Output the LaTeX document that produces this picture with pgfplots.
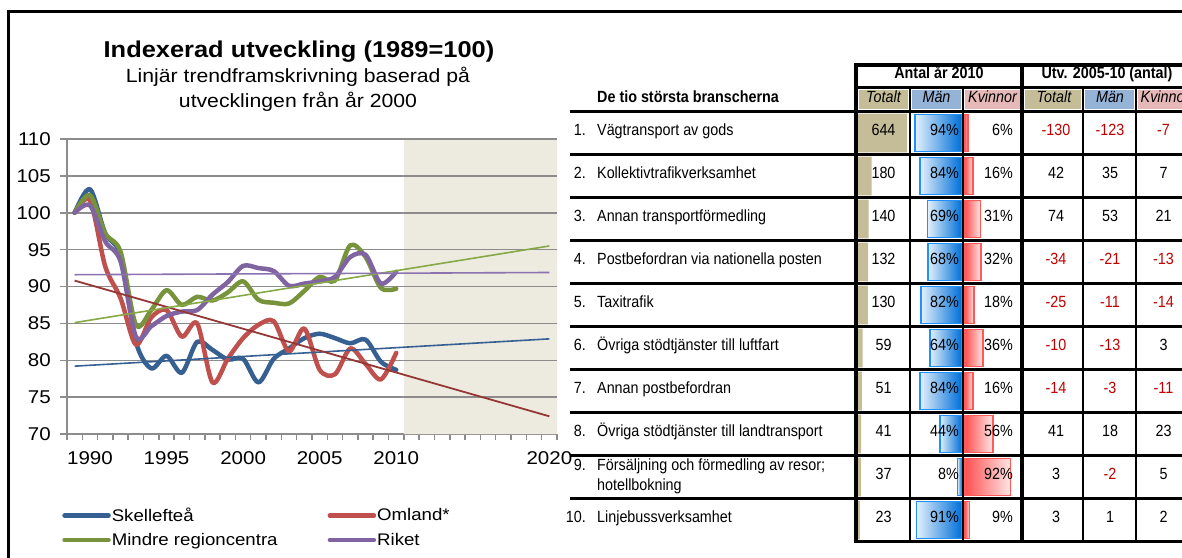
\documentclass[border=0pt]{standalone}
\usepackage{fontspec}
\setmainfont{Liberation Sans}[FakeStretch=1.11]
\newfontfamily\tabfont{Liberation Sans}[FakeStretch=0.885]
\usepackage{pgfplots}
\pgfplotsset{compat=1.18}

\definecolor{cBlue}{HTML}{376092}
\definecolor{cRed}{HTML}{C0504D}
\definecolor{cGreen}{HTML}{77933C}
\definecolor{cPurple}{HTML}{8064A2}
\definecolor{tRed}{HTML}{953735}
\definecolor{tGreen}{HTML}{86A845}
\definecolor{tPurple}{HTML}{8C72AE}
\definecolor{shadec}{HTML}{EDEBE0}
\definecolor{gridc}{HTML}{8C8C8C}
\definecolor{hTan}{HTML}{C4BD97}
\definecolor{hBlue}{HTML}{95B3D7}
\definecolor{hPink}{HTML}{E6B9B8}
\definecolor{negred}{HTML}{C00000}
\definecolor{manDark}{HTML}{0070D8}
\definecolor{manLight}{HTML}{E4F0FC}
\definecolor{manBorder}{HTML}{1E90FF}
\definecolor{kvDark}{HTML}{FF5050}
\definecolor{kvLight}{HTML}{FFE6E6}
\definecolor{kvBorder}{HTML}{FF5A5A}

\newcommand\tf{\tabfont\fontsize{16.2}{18}\selectfont}
\newcommand\N[1]{\textcolor{negred}{#1}}
\pgfplotsset{
  mbar/.style={xbar, bar width=0.86, left color=manLight, right color=manDark, draw=manBorder, line width=1.6pt},
  kbar/.style={xbar, bar width=0.86, left color=kvDark, right color=kvLight, draw=kvBorder, line width=1.6pt},
  tabaxis/.style={anchor=south west, scale only axis, height=430pt, ymin=0.5, ymax=10.5, y dir=reverse, hide axis, enlargelimits=false, clip=false},
  gl/.style={gridc, line width=1.5pt, forget plot},
}
\newcommand\trow[7]{%
  \pgfmathsetmacro\ry{111.5+43*(#1-0.5)}%
  \node[anchor=mid, inner sep=0pt, font=\tf] at (883.5,\ry) {#2};
  \node[anchor=mid east, inner sep=0pt, font=\tf] at (959,\ry) {#3\%};
  \node[anchor=mid east, inner sep=0pt, font=\tf] at (1013,\ry) {#4\%};
  \node[anchor=mid, inner sep=0pt, font=\tf] at (1056,\ry) {#5};
  \node[anchor=mid, inner sep=0pt, font=\tf] at (1110,\ry) {#6};
  \node[anchor=mid, inner sep=0pt, font=\tf] at (1163.5,\ry) {#7};
}
\newcommand\rlab[2]{%
  \pgfmathsetmacro\ry{111.5+43*(#1-0.5)}%
  \node[anchor=mid east, inner sep=0pt, font=\tf] at (586,\ry) {#1.};
  \node[anchor=mid west, inner sep=0pt, font=\tf] at (597,\ry) {#2};
}

\begin{document}
\begin{tikzpicture}
\fill[white] (0pt,-557pt) rectangle (1182pt,0pt);

\begin{scope}[x=1pt,y=-1pt]
\draw[overlay, black, line width=2.5pt] (8.5,600) -- (8.5,11.5) -- (1200,11.5);
\node[anchor=base, inner sep=0pt, font=\fontsize{22.9}{25}\selectfont\bfseries] at (299,57) {Indexerad utveckling (1989=100)};
\node[anchor=base, inner sep=0pt, font=\fontsize{19.1}{21}\selectfont] at (298,82) {Linjär trendframskrivning baserad på};
\node[anchor=base, inner sep=0pt, font=\fontsize{19.1}{21}\selectfont] at (298,107) {utvecklingen från år 2000};
\end{scope}

\begin{axis}[
  at={(67pt,-434pt)}, anchor=south west,
  scale only axis, width=490pt, height=295pt,
  xmin=1988.5, xmax=2020.5, ymin=70, ymax=110,
  axis x line*=bottom, axis y line*=left,
  axis line style={gridc, line width=1.5pt, -},
  ymajorgrids, grid style={gridc, line width=1.5pt},
  ytick={70,75,...,110},
  xtick={1990,1995,2000,2005,2010,2020},
  xticklabels={1990,1995,2000,2005,2010,2020},
  minor xtick={1988.5,1989.5,...,2020.5},
  tick align=outside,
  major tick length=7pt, minor tick length=6pt,
  tick style={gridc, line width=1.5pt},
  major x tick style={draw=none},
  ticklabel style={font=\fontsize{18.5}{20}\selectfont},
  /pgf/number format/assume math mode=true,
  yticklabel style={inner sep=0pt, xshift=-9pt},
  xticklabel style={inner sep=0pt, yshift=-10pt},
  legend columns=2,
  legend cell align=left,
  legend style={at={(-0.01,-0.247)}, anchor=north west, draw=none, fill=none, inner sep=0pt,
    font=\fontsize{16.8}{18}\selectfont, row sep=8pt, nodes={inner sep=1pt}},
  /tikz/every even column/.append style={column sep=49pt},
  legend image code/.code={\draw[#1, line width=4.5pt, line cap=round] (0pt,0pt) -- (44pt,0pt);},
]
\addplot[ybar, bar width=1, fill=shadec, draw=none, forget plot]
  coordinates {(2011,110)(2012,110)(2013,110)(2014,110)(2015,110)(2016,110)(2017,110)(2018,110)(2019,110)(2020,110)};
\addplot[gl] coordinates {(2010.5,75)(2020.5,75)};
\addplot[gl] coordinates {(2010.5,80)(2020.5,80)};
\addplot[gl] coordinates {(2010.5,85)(2020.5,85)};
\addplot[gl] coordinates {(2010.5,90)(2020.5,90)};
\addplot[gl] coordinates {(2010.5,95)(2020.5,95)};
\addplot[gl] coordinates {(2010.5,100)(2020.5,100)};
\addplot[gl] coordinates {(2010.5,105)(2020.5,105)};
\addplot[gl] coordinates {(2010.5,110)(2020.5,110)};
\addplot[cBlue, line width=4.5pt, smooth, line join=round, line cap=round] coordinates {
 (1989,100)(1990,103.2)(1991,97.2)(1992,94.2)(1993,82.5)(1994,78.9)(1995,80.6)(1996,78.3)(1997,82.5)(1998,81.4)(1999,80.1)(2000,80.2)(2001,77.0)(2002,80.2)(2003,81.6)(2004,83.0)(2005,83.6)(2006,83.0)(2007,82.3)(2008,82.8)(2009,79.8)(2010,78.7)};
\addplot[cRed, line width=4.5pt, smooth, line join=round, line cap=round] coordinates {
 (1989,100)(1990,101.7)(1991,92.7)(1992,88.4)(1993,82.1)(1994,85.8)(1995,86.8)(1996,83.2)(1997,85.0)(1998,77.0)(1999,80.2)(2000,83.0)(2001,84.8)(2002,85.3)(2003,81.2)(2004,84.3)(2005,78.7)(2006,78.1)(2007,81.6)(2008,79.5)(2009,77.4)(2010,81.0)};
\addplot[cGreen, line width=4.5pt, smooth, line join=round, line cap=round] coordinates {
 (1989,100)(1990,102.4)(1991,97.2)(1992,94.7)(1993,84.8)(1994,86.8)(1995,89.5)(1996,87.5)(1997,88.6)(1998,88.1)(1999,89.2)(2000,90.7)(2001,88.2)(2002,87.8)(2003,87.7)(2004,89.4)(2005,91.3)(2006,90.8)(2007,95.6)(2008,94.0)(2009,89.8)(2010,89.7)};
\addplot[cPurple, line width=4.5pt, smooth, line join=round, line cap=round] coordinates {
 (1989,100)(1990,101.0)(1991,96.1)(1992,93.4)(1993,83.2)(1994,84.6)(1995,86.0)(1996,86.6)(1997,86.8)(1998,88.9)(1999,90.6)(2000,92.8)(2001,92.5)(2002,92.1)(2003,90.1)(2004,90.4)(2005,90.7)(2006,91.3)(2007,94.0)(2008,94.3)(2009,90.4)(2010,92.0)};
\addplot[cBlue, line width=1.6pt, forget plot] coordinates {(1989,79.2)(2020,82.9)};
\addplot[tRed, line width=1.8pt, forget plot] coordinates {(1989,90.8)(2020,72.4)};
\addplot[tGreen, line width=1.6pt, forget plot] coordinates {(1989,85.1)(2020,95.5)};
\addplot[tPurple, line width=1.6pt, forget plot] coordinates {(1989,91.6)(2020,91.9)};
\legend{Skellefteå, Omland*, Mindre regioncentra, Riket}
\end{axis}

% table header fills
\begin{scope}[x=1pt,y=-1pt]
\fill[hTan] (859,90) rectangle (908,109);
\fill[hBlue] (912,90) rectangle (961,109);
\fill[hPink] (965,90) rectangle (1020,109);
\fill[hTan] (1025,90) rectangle (1081,109);
\fill[hBlue] (1085,90) rectangle (1134,109);
\fill[overlay, hPink] (1138,90) rectangle (1195,109);
\end{scope}

% data bars: Totalt
\begin{axis}[tabaxis, at={(858pt,-541.5pt)}, width=49pt, xmin=0, xmax=644]
\addplot[xbar, bar width=0.9, fill=hTan, draw=none] coordinates {(644,1)(180,2)(140,3)(132,4)(130,5)(59,6)(51,7)(41,8)(37,9)(23,10)};
\end{axis}
% Män
\begin{axis}[tabaxis, at={(912pt,-541.5pt)}, width=49.5pt, xmin=0, xmax=100, x dir=reverse]
\addplot[mbar] coordinates {(94,1)};
\addplot[mbar] coordinates {(84,2)};
\addplot[mbar] coordinates {(69,3)};
\addplot[mbar] coordinates {(68,4)};
\addplot[mbar] coordinates {(82,5)};
\addplot[mbar] coordinates {(64,6)};
\addplot[mbar] coordinates {(84,7)};
\addplot[mbar] coordinates {(44,8)};
\addplot[mbar] coordinates {(8,9)};
\addplot[mbar] coordinates {(91,10)};
\end{axis}
% Kvinnor
\begin{axis}[tabaxis, at={(965pt,-541.5pt)}, width=49.5pt, xmin=0, xmax=100]
\addplot[kbar] coordinates {(6,1)};
\addplot[kbar] coordinates {(16,2)};
\addplot[kbar] coordinates {(31,3)};
\addplot[kbar] coordinates {(32,4)};
\addplot[kbar] coordinates {(18,5)};
\addplot[kbar] coordinates {(36,6)};
\addplot[kbar] coordinates {(16,7)};
\addplot[kbar] coordinates {(56,8)};
\addplot[kbar] coordinates {(92,9)};
\addplot[kbar] coordinates {(9,10)};
\end{axis}

\begin{scope}[x=1pt,y=-1pt]
% lines
\draw[overlay, line width=3.5pt] (854.25,65) -- (1200,65);
\draw[line width=3.5pt] (856,63.25) -- (856,543.25);
\draw[overlay, line width=2.2pt] (856,87.5) -- (1200,87.5);
\draw[overlay, line width=3.5pt] (570,111.5) -- (1200,111.5);
\foreach \k in {1,...,9} \draw[overlay, line width=2.3pt] (570,{111.5+43*\k}) -- (1200,{111.5+43*\k});
\draw[overlay, line width=3.5pt] (854.25,541.5) -- (1200,541.5);
\foreach \x in {910,962.7,1083,1136} \draw[line width=2.3pt] (\x,87.5) -- (\x,541.5);
\draw[line width=3.5pt] (1022,65) -- (1022,541.5);
% headers
\node[anchor=mid west, inner sep=0pt, font=\tf\bfseries] at (597,100) {De tio största branscherna};
\node[anchor=mid, inner sep=0pt, font=\tf\bfseries] at (939,76) {Antal år 2010};
\node[anchor=mid, inner sep=0pt, font=\tf\bfseries] at (1107,76) {Utv. 2005-10 (antal)};
\node[anchor=mid, inner sep=0pt, font=\tf\itshape] at (883.5,100) {Totalt};
\node[anchor=mid, inner sep=0pt, font=\tf\itshape] at (936.5,100) {Män};
\node[anchor=mid, inner sep=0pt, font=\tf\itshape] at (992.5,100) {Kvinnor};
\node[anchor=mid, inner sep=0pt, font=\tf\itshape] at (1054,100) {Totalt};
\node[anchor=mid, inner sep=0pt, font=\tf\itshape] at (1110,100) {Män};
\node[overlay, anchor=mid, inner sep=0pt, font=\tf\itshape] at (1165,100) {Kvinnor};
% row labels
\rlab{1}{Vägtransport av gods}
\rlab{2}{Kollektivtrafikverksamhet}
\rlab{3}{Annan transportförmedling}
\rlab{4}{Postbefordran via nationella posten}
\rlab{5}{Taxitrafik}
\rlab{6}{Övriga stödtjänster till luftfart}
\rlab{7}{Annan postbefordran}
\rlab{8}{Övriga stödtjänster till landtransport}
\node[anchor=mid east, inner sep=0pt, font=\tf] at (586,468) {9.};
\node[anchor=mid west, inner sep=0pt, font=\tf] at (597,468) {Försäljning och förmedling av resor;};
\node[anchor=mid west, inner sep=0pt, font=\tf] at (597,488) {hotellbokning};
\rlab{10}{Linjebussverksamhet}
% values
\trow{1}{644}{94}{6}{\N{-130}}{\N{-123}}{\N{-7}}
\trow{2}{180}{84}{16}{42}{35}{7}
\trow{3}{140}{69}{31}{74}{53}{21}
\trow{4}{132}{68}{32}{\N{-34}}{\N{-21}}{\N{-13}}
\trow{5}{130}{82}{18}{\N{-25}}{\N{-11}}{\N{-14}}
\trow{6}{59}{64}{36}{\N{-10}}{\N{-13}}{3}
\trow{7}{51}{84}{16}{\N{-14}}{\N{-3}}{\N{-11}}
\trow{8}{41}{44}{56}{41}{18}{23}
\trow{9}{37}{8}{92}{3}{\N{-2}}{5}
\trow{10}{23}{91}{9}{3}{1}{2}
\end{scope}
\end{tikzpicture}
\end{document}
